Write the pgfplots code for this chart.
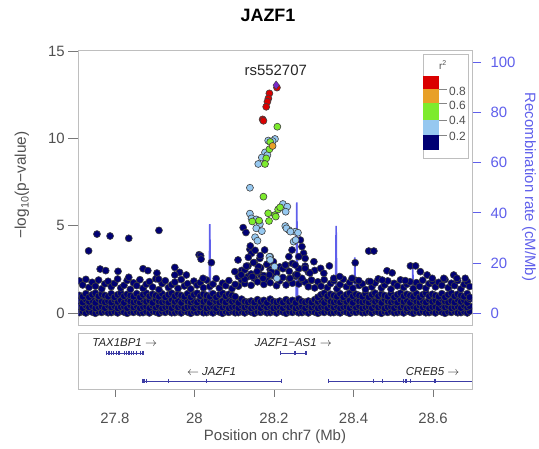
\documentclass[border=0pt]{standalone}
\usepackage{pgfplots}
\pgfplotsset{compat=1.18}
\usepackage{pgfplotstable}
\usepackage{fontspec}
\setmainfont{Liberation Sans}
\definecolor{navyc}{RGB}{0,0,115}
\definecolor{ltblue}{RGB}{150,200,240}
\definecolor{ltgreen}{RGB}{125,235,45}
\definecolor{orangec}{RGB}{232,160,40}
\definecolor{redc}{RGB}{218,0,0}
\definecolor{purp}{RGB}{120,40,200}
\definecolor{recblue}{RGB}{95,95,235}
\definecolor{genec}{RGB}{60,60,165}
\definecolor{framec}{RGB}{190,190,190}
\definecolor{tickc}{RGB}{120,120,120}
\definecolor{labc}{RGB}{80,80,80}
\pgfplotsset{pt/.style={only marks, mark=*, mark size=3.5bp, mark options={fill=#1, draw=black!75, line width=0.6bp}}}
\pgfplotstableread{
x a b c d e
27.710 0.04 0.38 0.70 1.02 1.85
27.718 0.10 0.30 0.62 0.95 1.62
27.726 0.02 0.44 0.78 1.12 1.94
27.734 0.12 0.34 0.66 0.92 1.48
27.742 0.07 0.41 0.74 1.06 1.77
27.750 0.00 0.29 0.60 1.15 1.55
27.758 0.09 0.36 0.81 0.98 1.90
27.766 0.05 0.38 0.68 1.09 1.40
27.774 0.11 0.30 0.63 1.02 1.68
27.782 0.03 0.44 0.70 0.95 1.83
27.790 0.04 0.34 0.62 1.12 1.52
27.798 0.10 0.41 0.78 0.92 1.71
27.806 0.02 0.29 0.66 1.06 1.96
27.814 0.12 0.36 0.74 1.15 1.45
27.822 0.07 0.38 0.60 0.98 1.60
27.830 0.00 0.30 0.81 1.09 1.88
27.838 0.09 0.44 0.68 1.02 1.37
27.846 0.05 0.34 0.63 0.95 1.74
27.854 0.11 0.41 0.70 1.12 1.58
27.862 0.03 0.29 0.62 0.92 1.92
27.870 0.04 0.36 0.78 1.06 1.43
27.878 0.10 0.38 0.66 1.15 1.66
27.886 0.02 0.30 0.74 0.98 1.81
27.894 0.12 0.44 0.60 1.09 1.50
27.902 0.07 0.34 0.81 1.02 1.97
27.910 0.00 0.41 0.68 0.95 1.35
27.918 0.09 0.29 0.63 1.12 1.70
27.926 0.05 0.36 0.70 0.92 1.86
27.934 0.11 0.38 0.62 1.06 1.47
27.942 0.03 0.30 0.78 1.15 1.63
27.950 0.04 0.44 0.66 0.98 1.78
27.958 0.10 0.34 0.74 1.09 1.42
27.966 0.02 0.41 0.60 1.02 1.93
27.974 0.12 0.29 0.81 0.95 1.56
27.982 0.07 0.36 0.68 1.12 1.69
27.990 0.00 0.38 0.63 0.92 1.39
27.998 0.09 0.30 0.70 1.06 1.84
28.006 0.05 0.44 0.62 1.15 1.61
28.014 0.11 0.34 0.78 0.98 1.75
28.022 0.03 0.41 0.66 1.09 1.46
28.030 0.04 0.29 0.74 1.02 1.90
28.038 0.10 0.36 0.60 0.95 1.53
28.046 0.02 0.38 0.81 1.12 1.67
28.054 0.12 0.30 0.68 0.92 1.98
28.062 0.07 0.44 0.63 1.06 1.44
28.070 0.00 0.34 0.70 1.15 1.72
28.078 0.09 0.41 0.62 0.98 1.58
28.086 0.05 0.29 0.78 1.09 1.87
28.094 0.11 0.36 0.66 1.02 1.41
28.102 0.03 0.38 0.74 0.95 1.65
28.110 0.04 0.30 0.60 1.55 2.10
28.118 0.10 0.44 0.81 1.90 2.45
28.126 0.02 0.34 0.68 1.70 1.95
28.134 0.12 0.41 0.63 2.10 2.70
28.142 0.07 0.29 0.70 1.60 2.25
28.150 0.00 0.36 0.62 2.00 2.90
28.158 0.09 0.38 0.78 1.80 2.35
28.166 0.05 0.30 0.66 2.20 2.60
28.174 0.11 0.44 0.74 1.65 2.15
28.182 0.03 0.34 0.60 1.95 2.80
28.190 0.04 0.41 0.81 1.75 2.50
28.198 0.10 0.29 0.68 2.15 2.95
28.206 0.02 0.36 0.63 1.58 2.30
28.214 0.12 0.38 0.70 1.85 2.65
28.222 0.07 0.30 0.62 2.05 2.55
28.230 0.00 0.44 0.78 1.62 2.75
28.238 0.09 0.34 0.66 1.98 2.40
28.246 0.05 0.41 0.74 1.72 2.85
28.254 0.11 0.29 0.60 2.12 2.20
28.262 0.03 0.36 0.81 1.68 2.55
28.270 0.04 0.38 0.68 1.92 2.00
28.278 0.10 0.30 0.63 1.78 2.70
28.286 0.02 0.44 0.70 1.52 2.35
28.294 0.12 0.34 0.62 1.88 1.90
28.302 0.07 0.41 0.78 1.45 2.45
28.310 0.00 0.29 0.66 0.92 1.80
28.318 0.09 0.36 0.74 1.06 1.55
28.326 0.05 0.38 0.60 1.15 1.92
28.334 0.11 0.30 0.81 0.98 1.47
28.342 0.03 0.44 0.68 1.09 1.70
28.350 0.04 0.34 0.63 1.02 1.86
28.358 0.10 0.41 0.70 0.95 1.40
28.366 0.02 0.29 0.62 1.12 1.64
28.374 0.12 0.36 0.78 0.92 1.95
28.382 0.07 0.38 0.66 1.06 1.52
28.390 0.00 0.30 0.74 1.15 1.76
28.398 0.09 0.44 0.60 0.98 1.43
28.406 0.05 0.34 0.81 1.09 1.88
28.414 0.11 0.41 0.68 1.02 1.59
28.422 0.03 0.29 0.63 0.95 1.68
28.430 0.04 0.36 0.70 1.12 1.36
28.438 0.10 0.38 0.62 0.92 1.82
28.446 0.02 0.30 0.78 1.06 1.50
28.454 0.12 0.44 0.66 1.15 1.73
28.462 0.07 0.34 0.74 0.98 1.97
28.470 0.00 0.41 0.60 1.09 1.45
28.478 0.09 0.29 0.81 1.02 1.62
28.486 0.05 0.36 0.68 0.95 1.85
28.494 0.11 0.38 0.63 1.12 1.38
28.502 0.03 0.30 0.70 0.92 1.71
28.510 0.04 0.44 0.62 1.06 1.57
28.518 0.10 0.34 0.78 1.15 1.91
28.526 0.02 0.41 0.66 0.98 1.48
28.534 0.12 0.29 0.74 1.09 1.66
28.542 0.07 0.36 0.60 1.02 1.80
28.550 0.00 0.38 0.81 0.95 1.41
28.558 0.09 0.30 0.68 1.12 1.75
28.566 0.05 0.44 0.63 0.92 1.54
28.574 0.11 0.34 0.70 1.06 1.89
28.582 0.03 0.41 0.62 1.15 1.44
28.590 0.04 0.29 0.78 0.98 1.69
28.598 0.10 0.36 0.66 1.09 1.83
28.606 0.02 0.38 0.74 1.02 1.51
28.614 0.12 0.30 0.60 0.95 1.77
28.622 0.07 0.44 0.81 1.12 1.60
28.630 0.00 0.34 0.68 0.92 1.93
28.638 0.09 0.41 0.63 1.06 1.46
28.646 0.05 0.29 0.70 1.15 1.72
28.654 0.11 0.36 0.62 0.98 1.58
28.662 0.03 0.38 0.78 1.09 1.87
28.670 0.04 0.30 0.66 1.02 1.39
28.678 0.10 0.44 0.74 0.95 1.65
28.686 0.02 0.34 0.60 1.12 1.81
28.692 0.12 0.41 0.81 0.92 1.53
}\band
\begin{document}
\begin{tikzpicture}[x=1bp,y=1bp]
\useasboundingbox (0,0) rectangle (539,449);
% recombination rate axis (drawn first, behind points)
\begin{axis}[at={(78.3bp,124bp)}, anchor=south west, scale only axis,
  width=393.7bp, height=274.3bp,
  xmin=27.707, xmax=28.698, ymin=-4.66, ymax=104.6,
  axis x line=none, axis y line*=right,
  y axis line style={draw=none},
  ytick={0,20,40,60,80,100}, tick align=outside, major tick length=9bp,
  ytick style={recblue, line width=0.8bp},
  yticklabel style={text=recblue, font=\fontsize{15}{17}\selectfont, xshift=6bp},
  /pgf/number format/assume math mode=true]
\addplot[recblue, line width=1.6bp] coordinates {
(27.707,2) (28.036,2) (28.038,35.5) (28.040,2) (28.255,2) (28.257,44.2) (28.259,2)
(28.354,2) (28.356,34.8) (28.358,2) (28.401,2) (28.403,22.3) (28.405,2)
(28.547,2) (28.549,18) (28.551,2) (28.642,2) (28.644,12) (28.646,2) (28.698,2)};
\draw[recblue, line width=0.8bp] ([xshift=1bp]axis cs:28.698,0) -- ([xshift=1bp]axis cs:28.698,100);
\end{axis}
% association axis
\begin{axis}[at={(78.3bp,124bp)}, anchor=south west, scale only axis,
  width=393.7bp, height=274.3bp,
  xmin=27.707, xmax=28.698, ymin=-0.67, ymax=15.02,
  xtick=\empty, ytick={0,5,10,15}, ytick pos=left,
  tick align=outside, major tick length=10bp,
  axis line style={framec, line width=0.8bp},
  ytick style={tickc, line width=0.8bp},
  yticklabel style={text=labc, font=\fontsize{15}{17}\selectfont},
  /pgf/number format/assume math mode=true,
  clip marker paths=true]
\addplot[pt=navyc] table[x=x,y=a]{\band};
\addplot[pt=navyc] table[x=x,y=b]{\band};
\addplot[pt=navyc] table[x=x,y=c]{\band};
\addplot[pt=navyc] table[x=x,y=d]{\band};
\addplot[pt=navyc] table[x=x,y=e]{\band};
\addplot[pt=navyc] coordinates {
(27.733,3.57) (27.754,4.53) (27.787,4.42) (27.834,4.29) (27.910,4.74)
(27.762,2.53) (27.776,2.44) (27.807,2.40) (27.870,2.55) (27.882,2.44)
(27.905,2.30) (27.909,1.95) (27.834,2.06) (27.950,2.62) (27.962,2.34)
(27.979,2.19) (27.950,2.19) (28.021,2.00) (28.011,3.35) (28.015,3.29)
(28.016,3.10) (28.042,2.90) (28.122,4.90) (28.129,4.62) (28.139,3.66)
(28.143,3.43) (28.164,3.14) (28.176,3.62) (28.109,3.05) (28.101,2.38)
(28.126,2.48) (28.160,2.67) (28.193,2.38) (28.172,2.00) (28.140,3.85)
(28.152,3.60) (28.165,3.30) (28.135,3.20) (28.148,2.90) (28.182,2.80)
(28.130,2.70) (28.157,2.40) (28.117,2.20) (28.145,2.10) (28.188,2.20)
(28.266,4.19) (28.270,3.81) (28.274,3.43) (28.278,3.14) (28.262,3.24)
(28.245,3.62) (28.237,3.24) (28.228,2.76) (28.253,2.76) (28.278,2.57)
(28.300,2.95) (28.317,2.57) (28.325,2.29) (28.339,2.71) (28.350,2.00)
(28.258,2.20) (28.290,2.30) (28.240,2.00) (28.438,3.56) (28.451,3.56)
(28.404,2.89) (28.396,2.00) (28.413,1.87) (28.442,1.81) (28.484,2.43)
(28.497,2.31) (28.472,1.90) (28.543,2.71) (28.556,2.71) (28.568,2.38)
(28.585,2.19) (28.598,2.00) (28.627,2.00) (28.652,2.19) (28.660,2.00)
(28.681,2.00) (28.530,1.87) (28.365,2.10)};
\addplot[pt=ltblue] coordinates {
(28.139,5.70) (28.143,5.43) (28.155,5.37) (28.164,5.10) (28.155,4.86)
(28.169,4.70) (28.152,4.35) (28.158,4.15) (28.190,3.24) (28.201,2.67)
(28.207,2.00) (28.222,6.25) (28.233,6.10) (28.229,5.81) (28.228,4.99)
(28.237,4.76) (28.253,4.67) (28.260,4.61) (28.249,4.10) (28.254,4.19)
(28.188,3.23) (28.190,3.05) (28.202,9.97) (28.196,9.85) (28.185,9.88)
(28.177,9.20) (28.169,8.91) (28.183,9.05) (28.160,8.54) (28.139,7.18)
(28.231,4.86) (28.241,4.67)};
\addplot[pt=ltgreen] coordinates {
(28.208,10.67) (28.190,9.80) (28.188,9.38) (28.180,8.86) (28.177,8.54)
(28.173,6.67) (28.185,5.72) (28.202,5.62) (28.210,5.94) (28.215,6.06)
(28.204,5.53) (28.145,5.25) (28.162,5.30) (28.187,5.28)};
\addplot[pt=orangec] coordinates {(28.196,9.57)};
\addplot[pt=redc] coordinates {
(28.207,12.91) (28.188,12.58) (28.1855,12.29) (28.183,12.10) (28.180,11.81)
(28.171,11.09) (28.173,11.01)};
\addplot[only marks, mark=diamond*, mark size=4.2bp, mark options={fill=purp, draw=black!75, line width=0.4bp}] coordinates {(28.205,13.05)};
\node[font=\fontsize{15}{17}\selectfont, text=black!85] at (axis cs:28.204,13.9) {rs552707};
\end{axis}
% gene track
\begin{axis}[at={(78bp,60bp)}, anchor=south west, scale only axis,
  width=394bp, height=56bp,
  xmin=27.707, xmax=28.698, ymin=0, ymax=56,
  ytick=\empty, xtick={27.8,28.0,28.2,28.4,28.6},
  xticklabels={27.8,28,28.2,28.4,28.6}, xtick pos=left,
  tick align=outside, major tick length=8bp,
  axis line style={framec, line width=0.8bp},
  xtick style={tickc, line width=0.8bp},
  xticklabel style={text=labc, font=\fontsize{15}{17}\selectfont, yshift=-13bp},
  clip=false]
\addplot[genec, line width=0.8bp] coordinates {(27.778,36) (27.872,36)};
\addplot[genec, line width=0.8bp] coordinates {(28.2166,36) (28.2804,36)};
\addplot[genec, line width=0.8bp] coordinates {(27.869,8) (28.219,8)};
\addplot[genec, line width=0.8bp] coordinates {(28.3365,8) (28.698,8)};
\addplot[only marks, mark=|, mark size=2bp, genec, mark options={line width=1.1bp}] coordinates {
(27.778,36) (27.785,36) (27.792,36) (27.797,36) (27.8035,36) (27.810,36)
(27.824,36) (27.829,36) (27.833,36) (27.837,36) (27.841,36) (27.847,36)
(27.855,36) (27.864,36) (27.8705,36)
(28.2166,36) (28.2527,36) (28.2804,36)
(27.869,8) (27.873,8) (27.879,8) (27.9345,8) (28.030,8) (28.219,8)
(28.3365,8) (28.450,8) (28.4725,8) (28.5255,8) (28.532,8) (28.544,8) (28.605,8)};
\node[font=\fontsize{11.5}{13}\selectfont\itshape, text=black!85] at (axis cs:27.8244,46) {TAX1BP1 $\rightarrow$};
\node[font=\fontsize{11.5}{13}\selectfont\itshape, text=black!85] at (axis cs:28.2484,46) {JAZF1−AS1 $\rightarrow$};
\node[font=\fontsize{11.5}{13}\selectfont\itshape, text=black!85] at (axis cs:28.0428,17.3) {$\leftarrow$ JAZF1};
\node[font=\fontsize{11.5}{13}\selectfont\itshape, text=black!85] at (axis cs:28.599,17.3) {CREB5 $\rightarrow$};
\end{axis}
% legend
\draw[framec, line width=0.8bp, fill=white] (423.5,291) rectangle (468.5,395);
\fill[redc] (423,359.7) rectangle (439.3,373.3);
\fill[orangec] (423,345.7) rectangle (439.3,359.7);
\fill[ltgreen] (423,329) rectangle (439.3,345.7);
\fill[ltblue] (423,314) rectangle (439.3,329);
\fill[navyc] (423,299) rectangle (439.3,314);
\draw[labc!70, line width=0.6bp] (439.3,359.7) -- (447,359.7) (439.3,345.7) -- (447,345.7)
  (439.3,329) -- (447,329) (439.3,314) -- (447,314);
\begin{scope}[every node/.style={anchor=west, inner sep=0pt, text=labc, font=\fontsize{12}{14}\selectfont}]
\node at (449,357.5) {0.8};
\node at (449,343.5) {0.6};
\node at (449,328.5) {0.4};
\node at (449,313) {0.2};
\end{scope}
\node[text=labc, font=\fontsize{10}{12}\selectfont] at (443,384) {r\textsuperscript{2}};
% titles and labels
\node[font=\bfseries\fontsize{18}{22}\selectfont] at (268,434) {JAZF1};
\node[rotate=90, text=labc, font=\fontsize{15.5}{18}\selectfont] at (22,264) {−log\textsubscript{10}(p−value)};
\node[rotate=-90, text=recblue, font=\fontsize{15}{17}\selectfont] at (529,262) {Recombination rate (cM/Mb)};
\node[text=labc, font=\fontsize{15}{17}\selectfont] at (275,12.3) {Position on chr7 (Mb)};
\end{tikzpicture}
\end{document}
